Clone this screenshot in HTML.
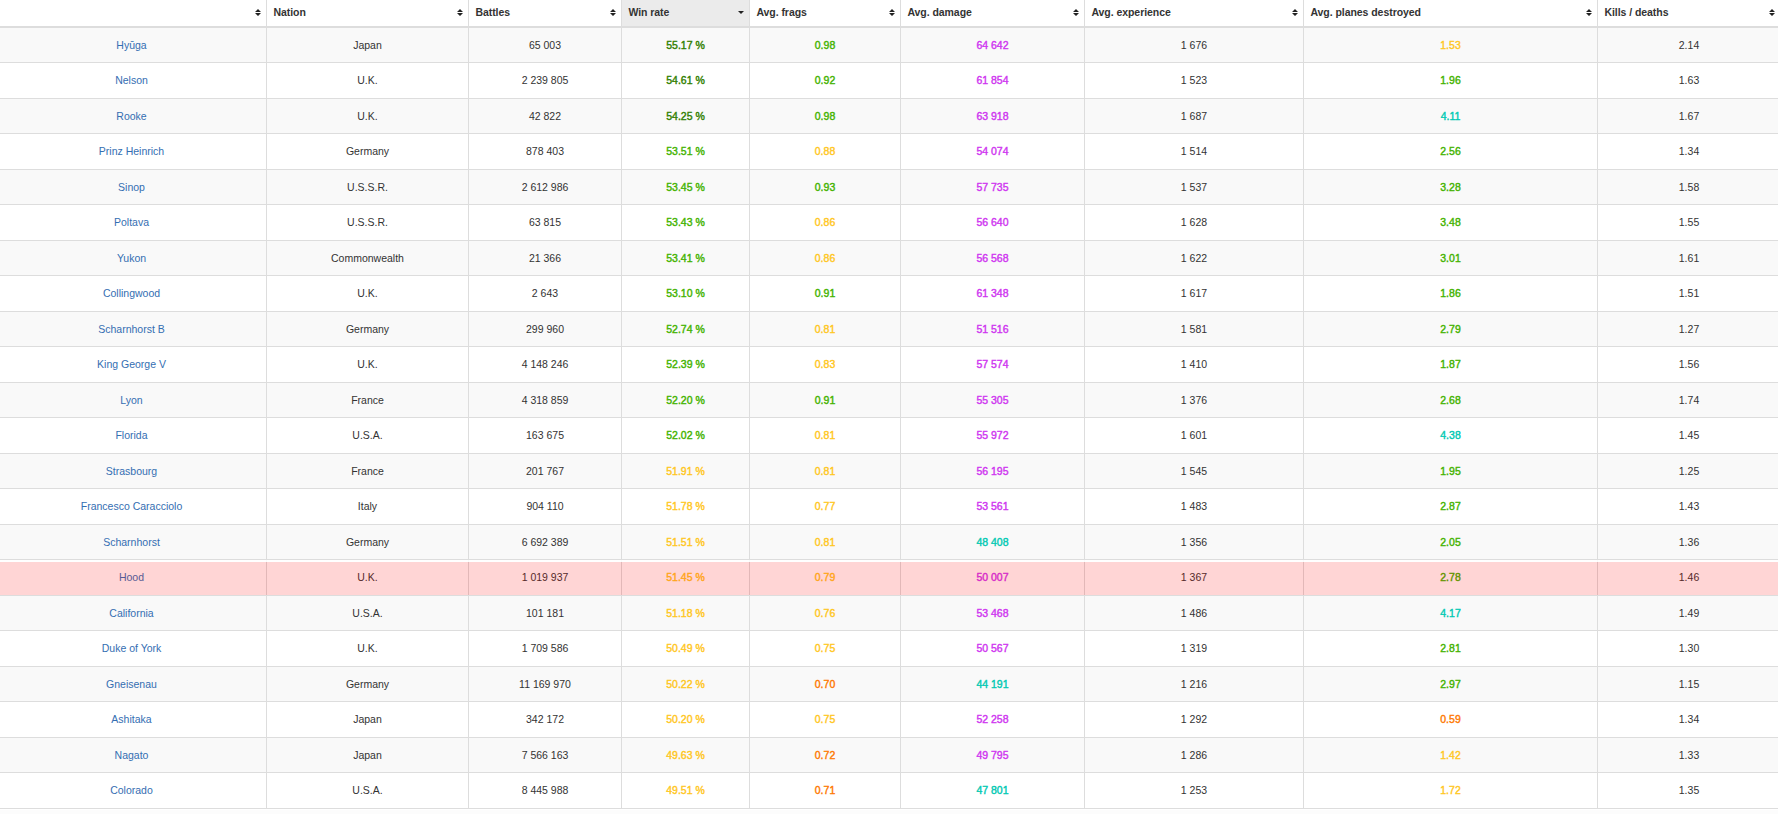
<!DOCTYPE html>
<html><head><meta charset="utf-8"><style>
html,body{margin:0;padding:0;background:#fff;width:1778px;height:814px;overflow:hidden;}
body{position:relative;font-family:"Liberation Sans",sans-serif;font-size:10.5px;color:#333;}
.a{position:absolute;}
.r{position:absolute;left:0;width:1778px;}
.hl{position:absolute;left:0;width:1778px;height:1px;background:#dddddd;}
.vl{position:absolute;top:0;width:1px;height:809px;background:#dddddd;}
.t{position:absolute;white-space:nowrap;text-align:center;}
.th{position:absolute;white-space:nowrap;font-weight:bold;top:0;}
.b{font-weight:normal;-webkit-text-stroke:0.4px currentColor;}
.lk{color:#346eb2;}
svg{position:absolute;}
</style></head><body>

<div class="a" style="left:622px;top:0;width:127px;height:26px;background:#ebebeb"></div>
<div class="hl" style="top:26px;height:2px"></div>
<div class="r" style="top:28px;height:34px;background:#f9f9f9"></div>
<div class="r" style="top:99px;height:34px;background:#f9f9f9"></div>
<div class="r" style="top:170px;height:34px;background:#f9f9f9"></div>
<div class="r" style="top:241px;height:34px;background:#f9f9f9"></div>
<div class="r" style="top:312px;height:34px;background:#f9f9f9"></div>
<div class="r" style="top:383px;height:34px;background:#f9f9f9"></div>
<div class="r" style="top:454px;height:34px;background:#f9f9f9"></div>
<div class="r" style="top:525px;height:34px;background:#f9f9f9"></div>
<div class="r" style="top:596px;height:34px;background:#f9f9f9"></div>
<div class="r" style="top:667px;height:34px;background:#f9f9f9"></div>
<div class="r" style="top:738px;height:34px;background:#f9f9f9"></div>
<div class="r" style="top:810px;height:4px;background:#fcfcfc"></div>
<div class="hl" style="top:62px"></div>
<div class="hl" style="top:98px"></div>
<div class="hl" style="top:133px"></div>
<div class="hl" style="top:169px"></div>
<div class="hl" style="top:204px"></div>
<div class="hl" style="top:240px"></div>
<div class="hl" style="top:275px"></div>
<div class="hl" style="top:311px"></div>
<div class="hl" style="top:346px"></div>
<div class="hl" style="top:382px"></div>
<div class="hl" style="top:417px"></div>
<div class="hl" style="top:453px"></div>
<div class="hl" style="top:488px"></div>
<div class="hl" style="top:524px"></div>
<div class="hl" style="top:559px"></div>
<div class="hl" style="top:595px"></div>
<div class="hl" style="top:630px"></div>
<div class="hl" style="top:666px"></div>
<div class="hl" style="top:701px"></div>
<div class="hl" style="top:737px"></div>
<div class="hl" style="top:772px"></div>
<div class="hl" style="top:808px"></div>
<div class="vl" style="left:266px"></div>
<div class="vl" style="left:468px"></div>
<div class="vl" style="left:621px"></div>
<div class="vl" style="left:749px"></div>
<div class="vl" style="left:900px"></div>
<div class="vl" style="left:1084px"></div>
<div class="vl" style="left:1303px"></div>
<div class="vl" style="left:1597px"></div>
<div class="th" style="left:273.4px;line-height:24px;letter-spacing:-0.05px">Nation</div>
<div class="th" style="left:475.4px;line-height:24px;letter-spacing:-0.05px">Battles</div>
<div class="th" style="left:628.4px;line-height:24px;letter-spacing:-0.05px">Win rate</div>
<div class="th" style="left:756.4px;line-height:24px;letter-spacing:-0.05px">Avg. frags</div>
<div class="th" style="left:907.4px;line-height:24px;letter-spacing:-0.05px">Avg. damage</div>
<div class="th" style="left:1091.4px;line-height:24px;letter-spacing:-0.05px">Avg. experience</div>
<div class="th" style="left:1310.4px;line-height:24px;letter-spacing:-0.05px">Avg. planes destroyed</div>
<div class="th" style="left:1604.4px;line-height:24px;letter-spacing:-0.05px">Kills / deaths</div>
<svg style="left:255px;top:9px" width="6" height="7" viewBox="0 0 6 7"><path d="M3 0L6 3H0Z M0 4H6L3 7Z" fill="#222"/></svg>
<svg style="left:457px;top:9px" width="6" height="7" viewBox="0 0 6 7"><path d="M3 0L6 3H0Z M0 4H6L3 7Z" fill="#222"/></svg>
<svg style="left:610px;top:9px" width="6" height="7" viewBox="0 0 6 7"><path d="M3 0L6 3H0Z M0 4H6L3 7Z" fill="#222"/></svg>
<svg style="left:738px;top:11px" width="6" height="3" viewBox="0 0 6 3"><path d="M0 0H6L3 3Z" fill="#222"/></svg>
<svg style="left:889px;top:9px" width="6" height="7" viewBox="0 0 6 7"><path d="M3 0L6 3H0Z M0 4H6L3 7Z" fill="#222"/></svg>
<svg style="left:1073px;top:9px" width="6" height="7" viewBox="0 0 6 7"><path d="M3 0L6 3H0Z M0 4H6L3 7Z" fill="#222"/></svg>
<svg style="left:1292px;top:9px" width="6" height="7" viewBox="0 0 6 7"><path d="M3 0L6 3H0Z M0 4H6L3 7Z" fill="#222"/></svg>
<svg style="left:1586px;top:9px" width="6" height="7" viewBox="0 0 6 7"><path d="M3 0L6 3H0Z M0 4H6L3 7Z" fill="#222"/></svg>
<svg style="left:1769px;top:9px" width="6" height="7" viewBox="0 0 6 7"><path d="M3 0L6 3H0Z M0 4H6L3 7Z" fill="#222"/></svg>
<div class="t lk" style="left:-3px;width:269px;top:28px;height:34px;line-height:34px;">Hyūga</div>
<div class="t" style="left:267px;width:201px;top:28px;height:34px;line-height:34px;">Japan</div>
<div class="t" style="left:469px;width:152px;top:28px;height:34px;line-height:34px;">65 003</div>
<div class="t b" style="left:622px;width:127px;top:28px;height:34px;line-height:34px;color:#318000;">55.17 %</div>
<div class="t b" style="left:750px;width:150px;top:28px;height:34px;line-height:34px;color:#44b300;">0.98</div>
<div class="t b" style="left:901px;width:183px;top:28px;height:34px;line-height:34px;color:#cf36f0;">64 642</div>
<div class="t" style="left:1085px;width:218px;top:28px;height:34px;line-height:34px;">1 676</div>
<div class="t b" style="left:1304px;width:293px;top:28px;height:34px;line-height:34px;color:#ffc71f;">1.53</div>
<div class="t" style="left:1598px;width:182px;top:28px;height:34px;line-height:34px;">2.14</div>
<div class="t lk" style="left:-3px;width:269px;top:63px;height:35px;line-height:35px;">Nelson</div>
<div class="t" style="left:267px;width:201px;top:63px;height:35px;line-height:35px;">U.K.</div>
<div class="t" style="left:469px;width:152px;top:63px;height:35px;line-height:35px;">2 239 805</div>
<div class="t b" style="left:622px;width:127px;top:63px;height:35px;line-height:35px;color:#318000;">54.61 %</div>
<div class="t b" style="left:750px;width:150px;top:63px;height:35px;line-height:35px;color:#44b300;">0.92</div>
<div class="t b" style="left:901px;width:183px;top:63px;height:35px;line-height:35px;color:#cf36f0;">61 854</div>
<div class="t" style="left:1085px;width:218px;top:63px;height:35px;line-height:35px;">1 523</div>
<div class="t b" style="left:1304px;width:293px;top:63px;height:35px;line-height:35px;color:#44b300;">1.96</div>
<div class="t" style="left:1598px;width:182px;top:63px;height:35px;line-height:35px;">1.63</div>
<div class="t lk" style="left:-3px;width:269px;top:99px;height:34px;line-height:34px;">Rooke</div>
<div class="t" style="left:267px;width:201px;top:99px;height:34px;line-height:34px;">U.K.</div>
<div class="t" style="left:469px;width:152px;top:99px;height:34px;line-height:34px;">42 822</div>
<div class="t b" style="left:622px;width:127px;top:99px;height:34px;line-height:34px;color:#318000;">54.25 %</div>
<div class="t b" style="left:750px;width:150px;top:99px;height:34px;line-height:34px;color:#44b300;">0.98</div>
<div class="t b" style="left:901px;width:183px;top:99px;height:34px;line-height:34px;color:#cf36f0;">63 918</div>
<div class="t" style="left:1085px;width:218px;top:99px;height:34px;line-height:34px;">1 687</div>
<div class="t b" style="left:1304px;width:293px;top:99px;height:34px;line-height:34px;color:#02c9b3;">4.11</div>
<div class="t" style="left:1598px;width:182px;top:99px;height:34px;line-height:34px;">1.67</div>
<div class="t lk" style="left:-3px;width:269px;top:134px;height:35px;line-height:35px;">Prinz Heinrich</div>
<div class="t" style="left:267px;width:201px;top:134px;height:35px;line-height:35px;">Germany</div>
<div class="t" style="left:469px;width:152px;top:134px;height:35px;line-height:35px;">878 403</div>
<div class="t b" style="left:622px;width:127px;top:134px;height:35px;line-height:35px;color:#44b300;">53.51 %</div>
<div class="t b" style="left:750px;width:150px;top:134px;height:35px;line-height:35px;color:#ffc71f;">0.88</div>
<div class="t b" style="left:901px;width:183px;top:134px;height:35px;line-height:35px;color:#cf36f0;">54 074</div>
<div class="t" style="left:1085px;width:218px;top:134px;height:35px;line-height:35px;">1 514</div>
<div class="t b" style="left:1304px;width:293px;top:134px;height:35px;line-height:35px;color:#44b300;">2.56</div>
<div class="t" style="left:1598px;width:182px;top:134px;height:35px;line-height:35px;">1.34</div>
<div class="t lk" style="left:-3px;width:269px;top:170px;height:34px;line-height:34px;">Sinop</div>
<div class="t" style="left:267px;width:201px;top:170px;height:34px;line-height:34px;">U.S.S.R.</div>
<div class="t" style="left:469px;width:152px;top:170px;height:34px;line-height:34px;">2 612 986</div>
<div class="t b" style="left:622px;width:127px;top:170px;height:34px;line-height:34px;color:#44b300;">53.45 %</div>
<div class="t b" style="left:750px;width:150px;top:170px;height:34px;line-height:34px;color:#44b300;">0.93</div>
<div class="t b" style="left:901px;width:183px;top:170px;height:34px;line-height:34px;color:#cf36f0;">57 735</div>
<div class="t" style="left:1085px;width:218px;top:170px;height:34px;line-height:34px;">1 537</div>
<div class="t b" style="left:1304px;width:293px;top:170px;height:34px;line-height:34px;color:#44b300;">3.28</div>
<div class="t" style="left:1598px;width:182px;top:170px;height:34px;line-height:34px;">1.58</div>
<div class="t lk" style="left:-3px;width:269px;top:205px;height:35px;line-height:35px;">Poltava</div>
<div class="t" style="left:267px;width:201px;top:205px;height:35px;line-height:35px;">U.S.S.R.</div>
<div class="t" style="left:469px;width:152px;top:205px;height:35px;line-height:35px;">63 815</div>
<div class="t b" style="left:622px;width:127px;top:205px;height:35px;line-height:35px;color:#44b300;">53.43 %</div>
<div class="t b" style="left:750px;width:150px;top:205px;height:35px;line-height:35px;color:#ffc71f;">0.86</div>
<div class="t b" style="left:901px;width:183px;top:205px;height:35px;line-height:35px;color:#cf36f0;">56 640</div>
<div class="t" style="left:1085px;width:218px;top:205px;height:35px;line-height:35px;">1 628</div>
<div class="t b" style="left:1304px;width:293px;top:205px;height:35px;line-height:35px;color:#44b300;">3.48</div>
<div class="t" style="left:1598px;width:182px;top:205px;height:35px;line-height:35px;">1.55</div>
<div class="t lk" style="left:-3px;width:269px;top:241px;height:34px;line-height:34px;">Yukon</div>
<div class="t" style="left:267px;width:201px;top:241px;height:34px;line-height:34px;">Commonwealth</div>
<div class="t" style="left:469px;width:152px;top:241px;height:34px;line-height:34px;">21 366</div>
<div class="t b" style="left:622px;width:127px;top:241px;height:34px;line-height:34px;color:#44b300;">53.41 %</div>
<div class="t b" style="left:750px;width:150px;top:241px;height:34px;line-height:34px;color:#ffc71f;">0.86</div>
<div class="t b" style="left:901px;width:183px;top:241px;height:34px;line-height:34px;color:#cf36f0;">56 568</div>
<div class="t" style="left:1085px;width:218px;top:241px;height:34px;line-height:34px;">1 622</div>
<div class="t b" style="left:1304px;width:293px;top:241px;height:34px;line-height:34px;color:#44b300;">3.01</div>
<div class="t" style="left:1598px;width:182px;top:241px;height:34px;line-height:34px;">1.61</div>
<div class="t lk" style="left:-3px;width:269px;top:276px;height:35px;line-height:35px;">Collingwood</div>
<div class="t" style="left:267px;width:201px;top:276px;height:35px;line-height:35px;">U.K.</div>
<div class="t" style="left:469px;width:152px;top:276px;height:35px;line-height:35px;">2 643</div>
<div class="t b" style="left:622px;width:127px;top:276px;height:35px;line-height:35px;color:#44b300;">53.10 %</div>
<div class="t b" style="left:750px;width:150px;top:276px;height:35px;line-height:35px;color:#44b300;">0.91</div>
<div class="t b" style="left:901px;width:183px;top:276px;height:35px;line-height:35px;color:#cf36f0;">61 348</div>
<div class="t" style="left:1085px;width:218px;top:276px;height:35px;line-height:35px;">1 617</div>
<div class="t b" style="left:1304px;width:293px;top:276px;height:35px;line-height:35px;color:#44b300;">1.86</div>
<div class="t" style="left:1598px;width:182px;top:276px;height:35px;line-height:35px;">1.51</div>
<div class="t lk" style="left:-3px;width:269px;top:312px;height:34px;line-height:34px;">Scharnhorst B</div>
<div class="t" style="left:267px;width:201px;top:312px;height:34px;line-height:34px;">Germany</div>
<div class="t" style="left:469px;width:152px;top:312px;height:34px;line-height:34px;">299 960</div>
<div class="t b" style="left:622px;width:127px;top:312px;height:34px;line-height:34px;color:#44b300;">52.74 %</div>
<div class="t b" style="left:750px;width:150px;top:312px;height:34px;line-height:34px;color:#ffc71f;">0.81</div>
<div class="t b" style="left:901px;width:183px;top:312px;height:34px;line-height:34px;color:#cf36f0;">51 516</div>
<div class="t" style="left:1085px;width:218px;top:312px;height:34px;line-height:34px;">1 581</div>
<div class="t b" style="left:1304px;width:293px;top:312px;height:34px;line-height:34px;color:#44b300;">2.79</div>
<div class="t" style="left:1598px;width:182px;top:312px;height:34px;line-height:34px;">1.27</div>
<div class="t lk" style="left:-3px;width:269px;top:347px;height:35px;line-height:35px;">King George V</div>
<div class="t" style="left:267px;width:201px;top:347px;height:35px;line-height:35px;">U.K.</div>
<div class="t" style="left:469px;width:152px;top:347px;height:35px;line-height:35px;">4 148 246</div>
<div class="t b" style="left:622px;width:127px;top:347px;height:35px;line-height:35px;color:#44b300;">52.39 %</div>
<div class="t b" style="left:750px;width:150px;top:347px;height:35px;line-height:35px;color:#ffc71f;">0.83</div>
<div class="t b" style="left:901px;width:183px;top:347px;height:35px;line-height:35px;color:#cf36f0;">57 574</div>
<div class="t" style="left:1085px;width:218px;top:347px;height:35px;line-height:35px;">1 410</div>
<div class="t b" style="left:1304px;width:293px;top:347px;height:35px;line-height:35px;color:#44b300;">1.87</div>
<div class="t" style="left:1598px;width:182px;top:347px;height:35px;line-height:35px;">1.56</div>
<div class="t lk" style="left:-3px;width:269px;top:383px;height:34px;line-height:34px;">Lyon</div>
<div class="t" style="left:267px;width:201px;top:383px;height:34px;line-height:34px;">France</div>
<div class="t" style="left:469px;width:152px;top:383px;height:34px;line-height:34px;">4 318 859</div>
<div class="t b" style="left:622px;width:127px;top:383px;height:34px;line-height:34px;color:#44b300;">52.20 %</div>
<div class="t b" style="left:750px;width:150px;top:383px;height:34px;line-height:34px;color:#44b300;">0.91</div>
<div class="t b" style="left:901px;width:183px;top:383px;height:34px;line-height:34px;color:#cf36f0;">55 305</div>
<div class="t" style="left:1085px;width:218px;top:383px;height:34px;line-height:34px;">1 376</div>
<div class="t b" style="left:1304px;width:293px;top:383px;height:34px;line-height:34px;color:#44b300;">2.68</div>
<div class="t" style="left:1598px;width:182px;top:383px;height:34px;line-height:34px;">1.74</div>
<div class="t lk" style="left:-3px;width:269px;top:418px;height:35px;line-height:35px;">Florida</div>
<div class="t" style="left:267px;width:201px;top:418px;height:35px;line-height:35px;">U.S.A.</div>
<div class="t" style="left:469px;width:152px;top:418px;height:35px;line-height:35px;">163 675</div>
<div class="t b" style="left:622px;width:127px;top:418px;height:35px;line-height:35px;color:#44b300;">52.02 %</div>
<div class="t b" style="left:750px;width:150px;top:418px;height:35px;line-height:35px;color:#ffc71f;">0.81</div>
<div class="t b" style="left:901px;width:183px;top:418px;height:35px;line-height:35px;color:#cf36f0;">55 972</div>
<div class="t" style="left:1085px;width:218px;top:418px;height:35px;line-height:35px;">1 601</div>
<div class="t b" style="left:1304px;width:293px;top:418px;height:35px;line-height:35px;color:#02c9b3;">4.38</div>
<div class="t" style="left:1598px;width:182px;top:418px;height:35px;line-height:35px;">1.45</div>
<div class="t lk" style="left:-3px;width:269px;top:454px;height:34px;line-height:34px;">Strasbourg</div>
<div class="t" style="left:267px;width:201px;top:454px;height:34px;line-height:34px;">France</div>
<div class="t" style="left:469px;width:152px;top:454px;height:34px;line-height:34px;">201 767</div>
<div class="t b" style="left:622px;width:127px;top:454px;height:34px;line-height:34px;color:#ffc71f;">51.91 %</div>
<div class="t b" style="left:750px;width:150px;top:454px;height:34px;line-height:34px;color:#ffc71f;">0.81</div>
<div class="t b" style="left:901px;width:183px;top:454px;height:34px;line-height:34px;color:#cf36f0;">56 195</div>
<div class="t" style="left:1085px;width:218px;top:454px;height:34px;line-height:34px;">1 545</div>
<div class="t b" style="left:1304px;width:293px;top:454px;height:34px;line-height:34px;color:#44b300;">1.95</div>
<div class="t" style="left:1598px;width:182px;top:454px;height:34px;line-height:34px;">1.25</div>
<div class="t lk" style="left:-3px;width:269px;top:489px;height:35px;line-height:35px;">Francesco Caracciolo</div>
<div class="t" style="left:267px;width:201px;top:489px;height:35px;line-height:35px;">Italy</div>
<div class="t" style="left:469px;width:152px;top:489px;height:35px;line-height:35px;">904 110</div>
<div class="t b" style="left:622px;width:127px;top:489px;height:35px;line-height:35px;color:#ffc71f;">51.78 %</div>
<div class="t b" style="left:750px;width:150px;top:489px;height:35px;line-height:35px;color:#ffc71f;">0.77</div>
<div class="t b" style="left:901px;width:183px;top:489px;height:35px;line-height:35px;color:#cf36f0;">53 561</div>
<div class="t" style="left:1085px;width:218px;top:489px;height:35px;line-height:35px;">1 483</div>
<div class="t b" style="left:1304px;width:293px;top:489px;height:35px;line-height:35px;color:#44b300;">2.87</div>
<div class="t" style="left:1598px;width:182px;top:489px;height:35px;line-height:35px;">1.43</div>
<div class="t lk" style="left:-3px;width:269px;top:525px;height:34px;line-height:34px;">Scharnhorst</div>
<div class="t" style="left:267px;width:201px;top:525px;height:34px;line-height:34px;">Germany</div>
<div class="t" style="left:469px;width:152px;top:525px;height:34px;line-height:34px;">6 692 389</div>
<div class="t b" style="left:622px;width:127px;top:525px;height:34px;line-height:34px;color:#ffc71f;">51.51 %</div>
<div class="t b" style="left:750px;width:150px;top:525px;height:34px;line-height:34px;color:#ffc71f;">0.81</div>
<div class="t b" style="left:901px;width:183px;top:525px;height:34px;line-height:34px;color:#02c9b3;">48 408</div>
<div class="t" style="left:1085px;width:218px;top:525px;height:34px;line-height:34px;">1 356</div>
<div class="t b" style="left:1304px;width:293px;top:525px;height:34px;line-height:34px;color:#44b300;">2.05</div>
<div class="t" style="left:1598px;width:182px;top:525px;height:34px;line-height:34px;">1.36</div>
<div class="t lk" style="left:-3px;width:269px;top:560px;height:35px;line-height:35px;">Hood</div>
<div class="t" style="left:267px;width:201px;top:560px;height:35px;line-height:35px;">U.K.</div>
<div class="t" style="left:469px;width:152px;top:560px;height:35px;line-height:35px;">1 019 937</div>
<div class="t b" style="left:622px;width:127px;top:560px;height:35px;line-height:35px;color:#ffc71f;">51.45 %</div>
<div class="t b" style="left:750px;width:150px;top:560px;height:35px;line-height:35px;color:#ffc71f;">0.79</div>
<div class="t b" style="left:901px;width:183px;top:560px;height:35px;line-height:35px;color:#cf36f0;">50 007</div>
<div class="t" style="left:1085px;width:218px;top:560px;height:35px;line-height:35px;">1 367</div>
<div class="t b" style="left:1304px;width:293px;top:560px;height:35px;line-height:35px;color:#44b300;">2.78</div>
<div class="t" style="left:1598px;width:182px;top:560px;height:35px;line-height:35px;">1.46</div>
<div class="t lk" style="left:-3px;width:269px;top:596px;height:34px;line-height:34px;">California</div>
<div class="t" style="left:267px;width:201px;top:596px;height:34px;line-height:34px;">U.S.A.</div>
<div class="t" style="left:469px;width:152px;top:596px;height:34px;line-height:34px;">101 181</div>
<div class="t b" style="left:622px;width:127px;top:596px;height:34px;line-height:34px;color:#ffc71f;">51.18 %</div>
<div class="t b" style="left:750px;width:150px;top:596px;height:34px;line-height:34px;color:#ffc71f;">0.76</div>
<div class="t b" style="left:901px;width:183px;top:596px;height:34px;line-height:34px;color:#cf36f0;">53 468</div>
<div class="t" style="left:1085px;width:218px;top:596px;height:34px;line-height:34px;">1 486</div>
<div class="t b" style="left:1304px;width:293px;top:596px;height:34px;line-height:34px;color:#02c9b3;">4.17</div>
<div class="t" style="left:1598px;width:182px;top:596px;height:34px;line-height:34px;">1.49</div>
<div class="t lk" style="left:-3px;width:269px;top:631px;height:35px;line-height:35px;">Duke of York</div>
<div class="t" style="left:267px;width:201px;top:631px;height:35px;line-height:35px;">U.K.</div>
<div class="t" style="left:469px;width:152px;top:631px;height:35px;line-height:35px;">1 709 586</div>
<div class="t b" style="left:622px;width:127px;top:631px;height:35px;line-height:35px;color:#ffc71f;">50.49 %</div>
<div class="t b" style="left:750px;width:150px;top:631px;height:35px;line-height:35px;color:#ffc71f;">0.75</div>
<div class="t b" style="left:901px;width:183px;top:631px;height:35px;line-height:35px;color:#cf36f0;">50 567</div>
<div class="t" style="left:1085px;width:218px;top:631px;height:35px;line-height:35px;">1 319</div>
<div class="t b" style="left:1304px;width:293px;top:631px;height:35px;line-height:35px;color:#44b300;">2.81</div>
<div class="t" style="left:1598px;width:182px;top:631px;height:35px;line-height:35px;">1.30</div>
<div class="t lk" style="left:-3px;width:269px;top:667px;height:34px;line-height:34px;">Gneisenau</div>
<div class="t" style="left:267px;width:201px;top:667px;height:34px;line-height:34px;">Germany</div>
<div class="t" style="left:469px;width:152px;top:667px;height:34px;line-height:34px;">11 169 970</div>
<div class="t b" style="left:622px;width:127px;top:667px;height:34px;line-height:34px;color:#ffc71f;">50.22 %</div>
<div class="t b" style="left:750px;width:150px;top:667px;height:34px;line-height:34px;color:#fe7903;">0.70</div>
<div class="t b" style="left:901px;width:183px;top:667px;height:34px;line-height:34px;color:#02c9b3;">44 191</div>
<div class="t" style="left:1085px;width:218px;top:667px;height:34px;line-height:34px;">1 216</div>
<div class="t b" style="left:1304px;width:293px;top:667px;height:34px;line-height:34px;color:#44b300;">2.97</div>
<div class="t" style="left:1598px;width:182px;top:667px;height:34px;line-height:34px;">1.15</div>
<div class="t lk" style="left:-3px;width:269px;top:702px;height:35px;line-height:35px;">Ashitaka</div>
<div class="t" style="left:267px;width:201px;top:702px;height:35px;line-height:35px;">Japan</div>
<div class="t" style="left:469px;width:152px;top:702px;height:35px;line-height:35px;">342 172</div>
<div class="t b" style="left:622px;width:127px;top:702px;height:35px;line-height:35px;color:#ffc71f;">50.20 %</div>
<div class="t b" style="left:750px;width:150px;top:702px;height:35px;line-height:35px;color:#ffc71f;">0.75</div>
<div class="t b" style="left:901px;width:183px;top:702px;height:35px;line-height:35px;color:#cf36f0;">52 258</div>
<div class="t" style="left:1085px;width:218px;top:702px;height:35px;line-height:35px;">1 292</div>
<div class="t b" style="left:1304px;width:293px;top:702px;height:35px;line-height:35px;color:#fe7903;">0.59</div>
<div class="t" style="left:1598px;width:182px;top:702px;height:35px;line-height:35px;">1.34</div>
<div class="t lk" style="left:-3px;width:269px;top:738px;height:34px;line-height:34px;">Nagato</div>
<div class="t" style="left:267px;width:201px;top:738px;height:34px;line-height:34px;">Japan</div>
<div class="t" style="left:469px;width:152px;top:738px;height:34px;line-height:34px;">7 566 163</div>
<div class="t b" style="left:622px;width:127px;top:738px;height:34px;line-height:34px;color:#ffc71f;">49.63 %</div>
<div class="t b" style="left:750px;width:150px;top:738px;height:34px;line-height:34px;color:#fe7903;">0.72</div>
<div class="t b" style="left:901px;width:183px;top:738px;height:34px;line-height:34px;color:#cf36f0;">49 795</div>
<div class="t" style="left:1085px;width:218px;top:738px;height:34px;line-height:34px;">1 286</div>
<div class="t b" style="left:1304px;width:293px;top:738px;height:34px;line-height:34px;color:#ffc71f;">1.42</div>
<div class="t" style="left:1598px;width:182px;top:738px;height:34px;line-height:34px;">1.33</div>
<div class="t lk" style="left:-3px;width:269px;top:773px;height:35px;line-height:35px;">Colorado</div>
<div class="t" style="left:267px;width:201px;top:773px;height:35px;line-height:35px;">U.S.A.</div>
<div class="t" style="left:469px;width:152px;top:773px;height:35px;line-height:35px;">8 445 988</div>
<div class="t b" style="left:622px;width:127px;top:773px;height:35px;line-height:35px;color:#ffc71f;">49.51 %</div>
<div class="t b" style="left:750px;width:150px;top:773px;height:35px;line-height:35px;color:#fe7903;">0.71</div>
<div class="t b" style="left:901px;width:183px;top:773px;height:35px;line-height:35px;color:#02c9b3;">47 801</div>
<div class="t" style="left:1085px;width:218px;top:773px;height:35px;line-height:35px;">1 253</div>
<div class="t b" style="left:1304px;width:293px;top:773px;height:35px;line-height:35px;color:#ffc71f;">1.72</div>
<div class="t" style="left:1598px;width:182px;top:773px;height:35px;line-height:35px;">1.35</div>
<div class="r" style="top:560px;height:2px;background:rgba(255,255,255,0.85)"></div>
<div class="r" style="top:562px;height:33px;background:rgba(255,0,0,0.165)"></div>
</body></html>
